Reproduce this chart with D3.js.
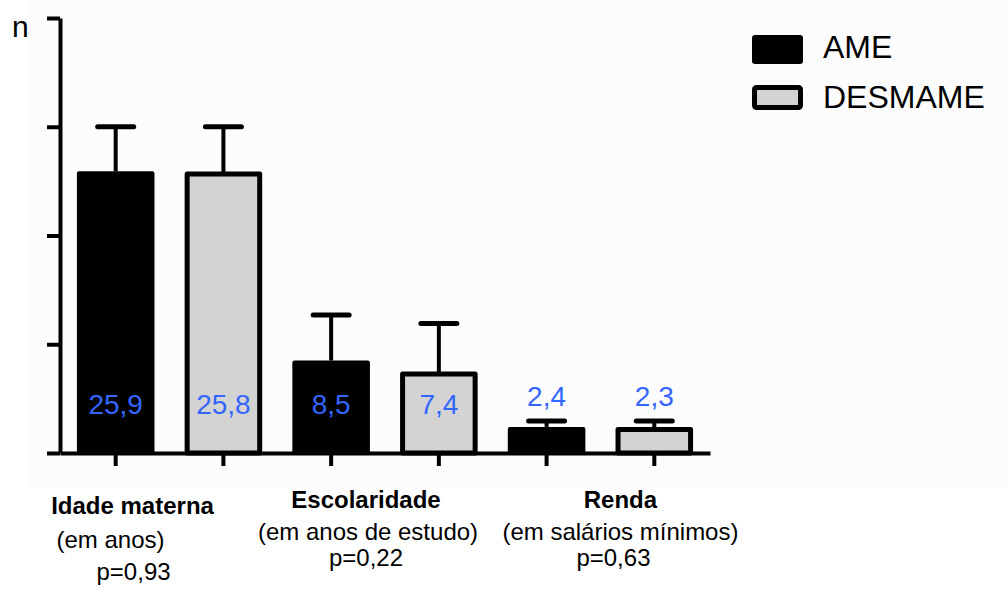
<!DOCTYPE html>
<html>
<head>
<meta charset="utf-8">
<script src="https://cdn.jsdelivr.net/npm/d3@7"></script>
<style>
  html, body { margin: 0; padding: 0; background: #ffffff; }
  svg { display: block; font-family: "Liberation Sans", Arial, sans-serif; }
</style>
</head>
<body>
<svg id="chart" width="1007" height="590"></svg>
<script>
// ---- data ----
const groups = ["Idade materna", "Escolaridade", "Renda"];
const groupSub = ["(em anos)", "(em anos de estudo)", "(em salários mínimos)"];
const groupP = ["p=0,93", "p=0,22", "p=0,63"];
const seriesNames = ["AME", "DESMAME"];
const ameValues = [25.9, 8.5, 2.4];
const desmameValues = [25.8, 7.4, 2.3];
const ameSD = [4.1, 4.2, 0.55];
const desmameSD = [4.2, 4.5, 0.65];
const valueLabels = [["25,9", "8,5", "2,4"], ["25,8", "7,4", "2,3"]];
const yTicks = [0, 10, 20, 30, 40];

// ---- build bar table ----
const bars = [];
groups.forEach((g, gi) => {
  bars.push({ key: g + "|AME", gi, s: 0, v: ameValues[gi], sd: ameSD[gi], label: valueLabels[0][gi] });
  bars.push({ key: g + "|DESMAME", gi, s: 1, v: desmameValues[gi], sd: desmameSD[gi], label: valueLabels[1][gi] });
});

const svg = d3.select("#chart");
const W = 1007, H = 590;
const fills = ["#000000", "#d3d3d3"];
const blue = "#3366ff";

// faint background panel
svg.append("rect").attr("x", 28).attr("y", 0).attr("width", W - 28).attr("height", 488).attr("fill", "#fcfcfc");

const y = d3.scaleLinear().domain([0, 40]).range([453, 18]);
const x = d3.scaleBand().domain(bars.map(d => d.key)).range([60, 710]).paddingInner(0.28).paddingOuter(0.157);
const bw = x.bandwidth();

// bars
const barG = svg.append("g");
bars.forEach(d => {
  const x0 = x(d.key);
  if (d.s === 0) {
    barG.append("rect")
      .attr("x", x0 + 2).attr("y", y(d.v) + 2)
      .attr("width", bw - 4).attr("height", y(0) - y(d.v) - 2)
      .attr("fill", fills[0]).attr("stroke", "#000").attr("stroke-width", 4)
      .attr("stroke-linejoin", "round");
  } else {
    barG.append("rect")
      .attr("x", x0 + 2.5).attr("y", y(d.v) + 1.5)
      .attr("width", bw - 5).attr("height", y(0) - y(d.v) - 1.5)
      .attr("fill", fills[1]).attr("stroke", "#000").attr("stroke-width", 5)
      .attr("stroke-linejoin", "round");
  }
});

// error bars
const errG = svg.append("g");
bars.forEach(d => {
  const cx = x(d.key) + bw / 2;
  errG.append("line")
    .attr("x1", cx).attr("x2", cx)
    .attr("y1", y(d.v)).attr("y2", y(d.v + d.sd))
    .attr("stroke", "#000").attr("stroke-width", 4);
  errG.append("line")
    .attr("x1", cx - 18).attr("x2", cx + 18)
    .attr("y1", y(d.v + d.sd)).attr("y2", y(d.v + d.sd))
    .attr("stroke", "#000").attr("stroke-width", 5).attr("stroke-linecap", "round");
});

// axes
const yAxis = svg.append("g").attr("transform", "translate(60,0)")
  .call(d3.axisLeft(y).tickValues(yTicks).tickSize(13).tickSizeOuter(0).tickFormat(""));
yAxis.select(".domain").attr("stroke", "#000").attr("stroke-width", 4);
yAxis.selectAll(".tick line").attr("stroke", "#000").attr("stroke-width", 4);

const xAxis = svg.append("g").attr("transform", "translate(0,453)")
  .call(d3.axisBottom(x).tickSize(13).tickSizeOuter(0).tickFormat(""));
xAxis.select(".domain").attr("stroke", "#000").attr("stroke-width", 4);
xAxis.selectAll(".tick line").attr("stroke", "#000").attr("stroke-width", 4);

// value labels
bars.forEach(d => {
  const cx = x(d.key) + bw / 2;
  const tall = (y(0) - y(d.v)) > 60;
  const ty = tall ? 414 : y(d.v + d.sd) - 15;
  svg.append("text")
    .attr("x", cx).attr("y", ty)
    .attr("text-anchor", "middle")
    .attr("font-size", 28).attr("fill", blue)
    .text(d.label);
});

// axis title
svg.append("text").attr("x", 12).attr("y", 37).attr("font-size", 30).attr("fill", "#000").text("n");

// category labels (three lines per group), offsets relative to group centre
const groupCenter = gi => (x(groups[gi] + "|AME") + x(groups[gi] + "|DESMAME") + bw) / 2;
const titleDx = [-37, -19, 20];
const subDx = [-59, -17, 20];
const pDx = [-36, -19, 13];
const titleY = [514, 508, 508];
const subY = [548, 540, 540];
const pY = [580, 566, 566];
groups.forEach((g, gi) => {
  const c = groupCenter(gi);
  svg.append("text").attr("x", c + titleDx[gi]).attr("y", titleY[gi]).attr("text-anchor", "middle")
    .attr("font-size", 24).attr("font-weight", "bold").attr("fill", "#000").text(g);
  svg.append("text").attr("x", c + subDx[gi]).attr("y", subY[gi]).attr("text-anchor", "middle")
    .attr("font-size", 24).attr("fill", "#000").text(groupSub[gi]);
  svg.append("text").attr("x", c + pDx[gi]).attr("y", pY[gi]).attr("text-anchor", "middle")
    .attr("font-size", 24).attr("fill", "#000").text(groupP[gi]);
});

// legend
const leg = svg.append("g");
seriesNames.forEach((s, i) => {
  const top = 35 + i * 50;
  if (i === 0) {
    leg.append("rect").attr("x", 752).attr("y", top).attr("width", 51).attr("height", 29)
      .attr("rx", 3).attr("fill", fills[0]);
  } else {
    leg.append("rect").attr("x", 754.5).attr("y", top + 2.5).attr("width", 46).attr("height", 20)
      .attr("rx", 2).attr("fill", fills[1]).attr("stroke", "#000").attr("stroke-width", 5);
  }
  leg.append("text").attr("x", 823).attr("y", top + 23).attr("font-size", 32).attr("fill", "#000").text(s);
});
</script>
</body>
</html>
